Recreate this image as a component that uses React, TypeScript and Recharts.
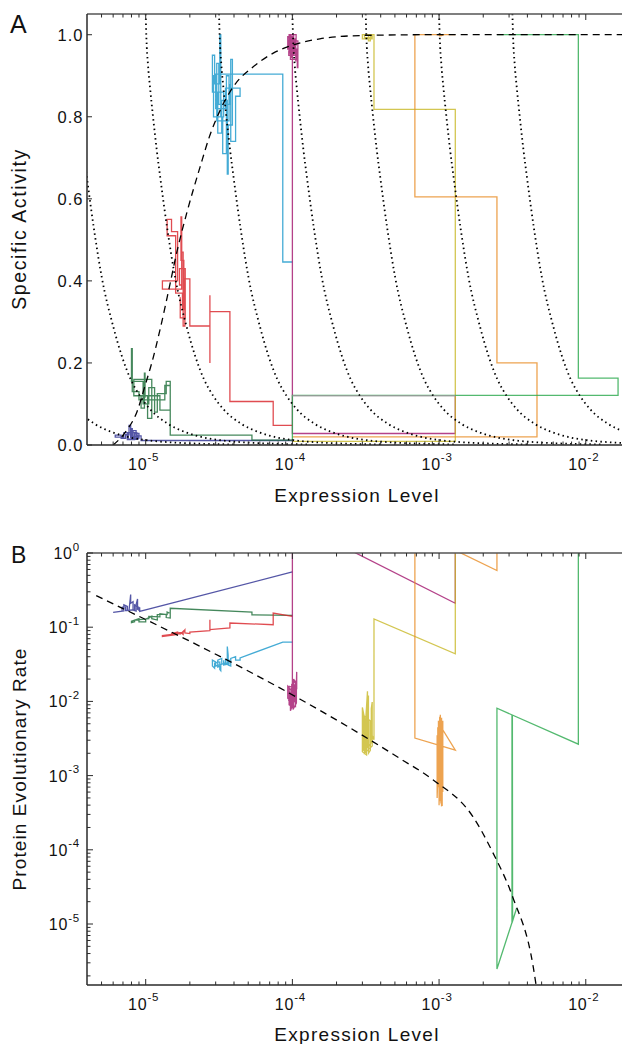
import React from 'react';
import { LineChart, Line, XAxis, YAxis } from 'recharts';

const FONT = '"Liberation Sans", Arial, Helvetica, sans-serif';
const AXIS = '#2a2a2a';
const TOPLINE = '#555';

// ---------- axes ----------
const xDomain: [number, number] = [3.98e-6, 1.766e-2];
const xTicks = [
  5e-6, 6e-6, 7e-6, 8e-6, 9e-6, 1e-5,
  2e-5, 3e-5, 4e-5, 5e-5, 6e-5, 7e-5, 8e-5, 9e-5, 1e-4,
  2e-4, 3e-4, 4e-4, 5e-4, 6e-4, 7e-4, 8e-4, 9e-4, 1e-3,
  2e-3, 3e-3, 4e-3, 5e-3, 6e-3, 7e-3, 8e-3, 9e-3, 1e-2,
];
const yDomainA: [number, number] = [0, 1.0505];
const yTicksA = [0, 0.2, 0.4, 0.6, 0.8, 1.0];
const yDomainB: [number, number] = [1.507e-6, 1];
const yTicksB = [
  2e-6, 3e-6, 4e-6, 5e-6, 6e-6, 7e-6, 8e-6, 9e-6, 1e-5,
  2e-5, 3e-5, 4e-5, 5e-5, 6e-5, 7e-5, 8e-5, 9e-5, 1e-4,
  2e-4, 3e-4, 4e-4, 5e-4, 6e-4, 7e-4, 8e-4, 9e-4, 1e-3,
  2e-3, 3e-3, 4e-3, 5e-3, 6e-3, 7e-3, 8e-3, 9e-3, 1e-2,
  2e-2, 3e-2, 4e-2, 5e-2, 6e-2, 7e-2, 8e-2, 9e-2, 1e-1,
  2e-1, 3e-1, 4e-1, 5e-1, 6e-1, 7e-1, 8e-1, 9e-1, 1,
];

// ---------- reference curves ----------
// fitness isoclines (dotted): shape, (decades right of the top crossing, activity)
const isoclineShape: [number, number][] = [
  [-0.01, 1.25], [0, 1.05], [0.005, 0.99], [0.015, 0.93], [0.03, 0.87], [0.05, 0.8],
  [0.075, 0.72], [0.1, 0.65], [0.15, 0.52], [0.2, 0.41], [0.28, 0.287], [0.4, 0.158],
  [0.46, 0.12], [0.53, 0.087], [0.65, 0.052], [0.78, 0.03], [0.9, 0.018], [1.05, 0.01],
  [1.25, 0.005], [1.6, 0.0015],
];
// log10 expression where each isocline meets the top of panel A
const isoclineOffsets = [-6, -5.5, -5, -4.5, -4, -3.5, -3, -2.5];

const dashedA: [number, number][] = [
  [6.0e-6, 0.0], [7.4e-6, 0.035], [8.7e-6, 0.08], [1.0e-5, 0.15], [1.1e-5, 0.2],
  [1.25e-5, 0.28], [1.45e-5, 0.385], [1.63e-5, 0.47], [1.9e-5, 0.564], [2.35e-5, 0.678],
  [2.74e-5, 0.755], [3.21e-5, 0.815], [3.95e-5, 0.873], [5.41e-5, 0.922], [7.41e-5, 0.955],
  [1.01e-4, 0.975], [1.54e-4, 0.99], [2.9e-4, 0.998], [8e-4, 1.0], [2e-2, 1.0],
];
const dashedB: [number, number][] = [
  [4.6e-6, 0.266], [1.13e-4, 1.07e-2], [2.47e-4, 4.4e-3], [5.41e-4, 1.7e-3],
  [9.08e-4, 8.8e-4], [1.7e-3, 2.8e-4], [2.33e-3, 9.1e-5], [3.18e-3, 2.3e-5],
  [4.39e-3, 2.6e-6], [4.8e-3, 8e-7],
];

// ---------- trajectories: (expression, activity) and (expression, rate) ----------
const navyA: [number, number][] = [
  [1e-4, 0.011], [9.3e-6, 0.011], [9.3e-6, 0.022], [8.9e-6, 0.022], [8.9e-6, 0.015],
  [8.6e-6, 0.015], [8.6e-6, 0.035], [8.2e-6, 0.035], [8.2e-6, 0.018], [7.9e-6, 0.018],
  [7.9e-6, 0.048], [7.7e-6, 0.048], [7.7e-6, 0.025], [7.3e-6, 0.025], [7.3e-6, 0.016],
  [6.8e-6, 0.016], [6.8e-6, 0.024], [6.2e-6, 0.024], [6.2e-6, 0.019], [7.1e-6, 0.019],
  [7.1e-6, 0.03], [7.5e-6, 0.03], [7.5e-6, 0.013], [8.4e-6, 0.013], [8.4e-6, 0.028],
  [9.0e-6, 0.028], [9.0e-6, 0.017], [8.0e-6, 0.017], [8.0e-6, 0.04], [8.1e-6, 0.04],
  [8.1e-6, 0.021], [8.7e-6, 0.021], [8.7e-6, 0.03], [7.6e-6, 0.03], [7.6e-6, 0.014],
  [8.8e-6, 0.014], [8.8e-6, 0.025],
];
const navyB: [number, number][] = [
  [1e-4, 0.555], [9.1e-6, 0.163], [9.1e-6, 0.18], [8.8e-6, 0.175], [8.8e-6, 0.24],
  [8.6e-6, 0.2], [8.6e-6, 0.165], [8.2e-6, 0.17], [8.2e-6, 0.22], [7.9e-6, 0.21],
  [7.9e-6, 0.275], [7.7e-6, 0.17], [7.3e-6, 0.168], [7.3e-6, 0.19], [6.9e-6, 0.185],
  [6.9e-6, 0.165], [6.0e-6, 0.158], [7.1e-6, 0.166], [7.1e-6, 0.2], [7.5e-6, 0.19],
  [7.5e-6, 0.168], [8.4e-6, 0.172], [8.4e-6, 0.2], [9.0e-6, 0.185], [9.0e-6, 0.165],
];

const dgreenA: [number, number][] = [
  [1e-4, 0.012], [5.3e-5, 0.012], [5.3e-5, 0.024], [1.47e-5, 0.024], [1.47e-5, 0.155],
  [1.38e-5, 0.155], [1.38e-5, 0.125], [1.2e-5, 0.125], [1.2e-5, 0.08], [1.15e-5, 0.08],
  [1.15e-5, 0.14], [1.05e-5, 0.14], [1.05e-5, 0.1], [9.6e-6, 0.1], [9.6e-6, 0.155],
  [8.0e-6, 0.155], [8.0e-6, 0.235], [8.1e-6, 0.235], [8.1e-6, 0.13], [9.0e-6, 0.13],
  [9.0e-6, 0.11], [1.35e-5, 0.11], [1.35e-5, 0.145], [1.47e-5, 0.145], [1.47e-5, 0.085],
  [1.25e-5, 0.085], [1.25e-5, 0.12], [8.3e-6, 0.12], [8.3e-6, 0.16], [1.1e-5, 0.16],
  [1.1e-5, 0.065], [1.03e-5, 0.065], [1.03e-5, 0.12], [9.3e-6, 0.12], [9.3e-6, 0.09],
  [9.8e-6, 0.09], [9.8e-6, 0.175], [9.9e-6, 0.175], [9.9e-6, 0.115],
];
const dgreenB: [number, number][] = [
  [1e-4, 0.144], [5.3e-5, 0.147], [5.3e-5, 0.16], [1.47e-5, 0.18], [1.47e-5, 0.133],
  [1.38e-5, 0.135], [1.38e-5, 0.15], [1.2e-5, 0.148], [1.2e-5, 0.125], [1.1e-5, 0.13],
  [1.1e-5, 0.14], [1.0e-5, 0.128], [1.0e-5, 0.118], [9.0e-6, 0.118], [9.0e-6, 0.13],
  [8.0e-6, 0.12], [8.0e-6, 0.115], [8.4e-6, 0.118], [8.4e-6, 0.125], [1.05e-5, 0.13],
  [1.05e-5, 0.14], [1.25e-5, 0.138], [1.25e-5, 0.152], [1.4e-5, 0.148], [1.4e-5, 0.16],
  [1.45e-5, 0.155],
];

const redA: [number, number][] = [
  [1e-4, 0.048], [7.4e-5, 0.048], [7.4e-5, 0.106], [3.75e-5, 0.106], [3.75e-5, 0.325],
  [2.74e-5, 0.325], [2.74e-5, 0.2], [2.74e-5, 0.365], [2.74e-5, 0.29], [2.0e-5, 0.29],
  [2.0e-5, 0.405], [1.85e-5, 0.405], [1.85e-5, 0.29], [1.8e-5, 0.29], [1.8e-5, 0.47],
  [1.76e-5, 0.47], [1.76e-5, 0.38], [1.3e-5, 0.38], [1.3e-5, 0.4], [1.65e-5, 0.4],
  [1.65e-5, 0.52], [1.5e-5, 0.52], [1.5e-5, 0.55], [1.4e-5, 0.55], [1.4e-5, 0.51],
  [1.6e-5, 0.51], [1.6e-5, 0.37], [1.78e-5, 0.37], [1.78e-5, 0.33], [1.82e-5, 0.33],
  [1.82e-5, 0.45], [1.74e-5, 0.45], [1.74e-5, 0.556], [1.76e-5, 0.556], [1.76e-5, 0.39],
  [1.7e-5, 0.39], [1.7e-5, 0.43], [1.86e-5, 0.43], [1.86e-5, 0.31], [1.72e-5, 0.31],
  [1.72e-5, 0.36],
];
const redB: [number, number][] = [
  [1e-4, 0.14], [7.4e-5, 0.155], [7.4e-5, 0.108], [3.75e-5, 0.114], [3.75e-5, 0.098],
  [2.74e-5, 0.093], [2.74e-5, 0.126], [2.74e-5, 0.09], [2.0e-5, 0.086], [2.0e-5, 0.082],
  [1.85e-5, 0.084], [1.85e-5, 0.092], [1.8e-5, 0.086], [1.8e-5, 0.08], [1.76e-5, 0.083],
  [1.3e-5, 0.077], [1.3e-5, 0.075], [1.65e-5, 0.08], [1.65e-5, 0.086], [1.5e-5, 0.082],
  [1.5e-5, 0.078], [1.4e-5, 0.077], [1.6e-5, 0.083], [1.78e-5, 0.085], [1.82e-5, 0.09],
  [1.74e-5, 0.082], [1.7e-5, 0.08],
];

const lblueA: [number, number][] = [
  [1e-4, 0.446], [8.6e-5, 0.446], [8.6e-5, 0.904], [3.0e-5, 0.904], [3.0e-5, 0.86],
  [2.85e-5, 0.86], [2.85e-5, 0.95], [2.95e-5, 0.95], [2.95e-5, 0.88], [3.2e-5, 0.88],
  [3.2e-5, 1.0], [3.25e-5, 1.0], [3.25e-5, 0.8], [3.4e-5, 0.8], [3.4e-5, 0.86],
  [3.1e-5, 0.86], [3.1e-5, 0.76], [3.3e-5, 0.76], [3.3e-5, 0.84], [3.6e-5, 0.84],
  [3.6e-5, 0.66], [3.65e-5, 0.66], [3.65e-5, 0.78], [3.9e-5, 0.78], [3.9e-5, 0.94],
  [3.8e-5, 0.94], [3.8e-5, 0.74], [4.1e-5, 0.74], [4.1e-5, 0.85], [4.4e-5, 0.85],
  [4.4e-5, 0.87], [3.5e-5, 0.87], [3.5e-5, 0.82], [3.0e-5, 0.82], [3.0e-5, 0.9],
  [2.9e-5, 0.9], [2.9e-5, 0.8], [3.35e-5, 0.8], [3.35e-5, 0.71], [3.55e-5, 0.71],
  [3.55e-5, 0.9], [3.7e-5, 0.9], [3.7e-5, 0.79], [3.05e-5, 0.79], [3.05e-5, 0.93],
  [3.15e-5, 0.93], [3.15e-5, 0.83], [3.75e-5, 0.83], [3.75e-5, 0.88],
];
const lblueB: [number, number][] = [
  [1e-4, 0.063], [8.6e-5, 0.063], [4.4e-5, 0.0385], [4.4e-5, 0.036], [4.1e-5, 0.036],
  [4.1e-5, 0.04], [3.8e-5, 0.038], [3.8e-5, 0.03], [3.65e-5, 0.031], [3.65e-5, 0.042],
  [3.6e-5, 0.055], [3.6e-5, 0.033], [3.3e-5, 0.032], [3.3e-5, 0.038], [3.1e-5, 0.036],
  [3.1e-5, 0.029], [3.25e-5, 0.03], [3.25e-5, 0.026], [3.2e-5, 0.027], [3.2e-5, 0.034],
  [2.95e-5, 0.033], [2.95e-5, 0.028], [2.85e-5, 0.03], [2.85e-5, 0.036], [3.0e-5, 0.034],
  [3.0e-5, 0.03], [3.5e-5, 0.033], [3.5e-5, 0.037], [3.7e-5, 0.036], [3.7e-5, 0.032],
  [3.4e-5, 0.031], [3.4e-5, 0.036],
];

const magentaA: [number, number][] = [
  [1.29e-3, 0.12], [1.29e-3, 0.028], [1e-4, 0.028], [1e-4, 0.97],
  [9.8e-5, 0.97], [9.8e-5, 1.0], [1.02e-4, 1.0], [1.02e-4, 0.95], [1.05e-4, 0.95],
  [1.05e-4, 0.99], [9.6e-5, 0.99], [9.6e-5, 0.96], [1.08e-4, 0.96], [1.08e-4, 0.92],
  [1.09e-4, 0.92], [1.09e-4, 0.985], [9.4e-5, 0.985], [9.4e-5, 0.975], [1.06e-4, 0.975],
  [1.06e-4, 1.0], [9.5e-5, 1.0], [9.5e-5, 0.955], [1.03e-4, 0.955], [1.03e-4, 0.98],
  [9.9e-5, 0.98], [9.9e-5, 0.945], [1.0e-4, 0.945], [1.0e-4, 0.995], [9.3e-5, 0.995],
  [9.3e-5, 0.965], [1.07e-4, 0.965], [1.07e-4, 0.94], [9.7e-5, 0.94], [9.7e-5, 0.99],
  [1.04e-4, 0.99], [1.04e-4, 0.96], [9.45e-5, 0.96], [9.45e-5, 0.95], [1.01e-4, 0.95],
  [1.01e-4, 1.0], [9.65e-5, 1.0], [9.65e-5, 0.97], [1.055e-4, 0.97], [1.055e-4, 0.935],
];
// stretch where the magenta path runs on top of the green one (drawn greyish in the figure)
const magentaOnGreenA: [number, number][] = [[1e-4, 0.12], [1.29e-3, 0.12]];
const magentaB: [number, number][] = [
  [1.29e-3, 3], [1.29e-3, 0.21], [1e-4, 2.7], [1e-4, 0.012], [9.8e-5, 0.015],
  [9.8e-5, 0.008], [1.02e-4, 0.009], [1.02e-4, 0.02], [1.05e-4, 0.018], [1.05e-4, 0.0085],
  [9.5e-5, 0.009], [9.5e-5, 0.016], [1.07e-4, 0.015], [1.07e-4, 0.025], [1.06e-4, 0.012],
  [9.7e-5, 0.0075], [9.7e-5, 0.013], [1.03e-4, 0.011], [1.03e-4, 0.017], [9.6e-5, 0.012],
  [9.6e-5, 0.009], [1.04e-4, 0.01], [1.04e-4, 0.014], [1.0e-4, 0.0095], [9.3e-5, 0.011],
  [9.3e-5, 0.016], [1.01e-4, 0.013], [1.01e-4, 0.0078], [1.065e-4, 0.0095], [1.065e-4, 0.019],
  [9.9e-5, 0.017], [9.9e-5, 0.0088], [9.4e-5, 0.0105],
];

const yellowA: [number, number][] = [
  [1e-4, 0.009], [1.29e-3, 0.009], [1.29e-3, 0.818], [3.6e-4, 0.818], [3.6e-4, 1.0],
  [3.4e-4, 1.0], [3.4e-4, 0.985], [3.3e-4, 0.985], [3.3e-4, 1.0], [3.0e-4, 1.0],
  [3.0e-4, 0.99], [3.5e-4, 0.99], [3.5e-4, 1.0], [3.1e-4, 1.0], [3.1e-4, 0.993],
  [3.45e-4, 0.993], [3.45e-4, 1.0],
];
const yellowB: [number, number][] = [
  [1.29e-3, 3], [1.29e-3, 0.0437], [3.6e-4, 0.129], [3.6e-4, 3.05e-3], [3.4e-4, 4e-3],
  [3.4e-4, 2.2e-3], [3.3e-4, 2e-3], [3.3e-4, 1.2e-2], [3.2e-4, 7e-3], [3.2e-4, 1.9e-3],
  [3.0e-4, 2.1e-3], [3.0e-4, 8.3e-3], [3.1e-4, 6e-3], [3.1e-4, 2e-3], [3.5e-4, 2.5e-3],
  [3.5e-4, 9.8e-3], [3.45e-4, 8e-3], [3.45e-4, 2.8e-3], [3.25e-4, 2.4e-3], [3.25e-4, 1.37e-2],
  [3.15e-4, 5e-3], [3.15e-4, 2.1e-3], [3.05e-4, 2.2e-3], [3.05e-4, 6.5e-3], [3.38e-4, 5.5e-3],
  [3.38e-4, 2.3e-3],
];

const orangeA: [number, number][] = [
  [1e-4, 0.02], [4.65e-3, 0.02], [4.65e-3, 0.2], [2.48e-3, 0.2], [2.48e-3, 0.605],
  [6.84e-4, 0.605], [6.84e-4, 1.0], [1.29e-3, 1.0], [1.0e-3, 1.0], [1.05e-3, 0.998],
  [9.6e-4, 1.0], [1.07e-3, 0.999], [1.0e-3, 0.997],
];
const orangeB: [number, number][] = [
  [2.48e-3, 5], [2.48e-3, 0.58], [6.84e-4, 2.0], [6.84e-4, 3.2e-3], [1.29e-3, 2.2e-3],
  [1.0e-3, 5e-3], [1.0e-3, 4e-4], [1.02e-3, 6.6e-3], [1.02e-3, 5e-4], [1.04e-3, 6e-3],
  [1.04e-3, 3.85e-4], [9.8e-4, 4.5e-3], [9.8e-4, 1e-3], [1.06e-3, 5.5e-3], [1.06e-3, 6e-4],
  [9.7e-4, 3.5e-3], [9.7e-4, 5e-4], [1.01e-3, 6.2e-3], [1.01e-3, 4.5e-4], [1.03e-3, 5.8e-3],
  [1.03e-3, 4.2e-4], [9.9e-4, 5.5e-3], [9.9e-4, 7e-4], [1.05e-3, 4e-3], [1.05e-3, 3.9e-4],
];

const greenA: [number, number][] = [
  [1e-4, 0.011], [1e-4, 0.121], [1.66e-2, 0.121], [1.66e-2, 0.163], [8.9e-3, 0.163],
  [8.9e-3, 1.0], [2.48e-3, 1.0], [3.38e-3, 1.0], [3.14e-3, 1.0],
];
const greenB: [number, number][] = [
  [1.66e-2, 5], [8.9e-3, 5], [8.9e-3, 2.65e-3], [2.48e-3, 8.1e-3], [2.48e-3, 2.48e-6],
  [3.38e-3, 1.64e-5], [3.14e-3, 1.03e-5], [3.14e-3, 6.6e-3], [3.15e-3, 1.1e-5],
  [3.16e-3, 6.5e-3], [3.17e-3, 1.2e-5], [3.15e-3, 6.4e-3],
];

const colors: Record<string, string> = {
  navy: '#2e3192',
  dgreen: '#1c6e38',
  red: '#d9252b',
  lblue: '#1b98cc',
  magenta: '#a3186f',
  yellow: '#c9b92b',
  orange: '#e98f2a',
  green: '#2daa4f',
  overlap: '#9c9a9c',
};

const trajA = [
  { name: 'navy', pts: navyA },
  { name: 'dgreen', pts: dgreenA },
  { name: 'red', pts: redA },
  { name: 'lblue', pts: lblueA },
  { name: 'magenta', pts: magentaA },
  { name: 'yellow', pts: yellowA },
  { name: 'orange', pts: orangeA },
  { name: 'green', pts: greenA },
  { name: 'overlap', pts: magentaOnGreenA },
];
const trajB = [
  { name: 'navy', pts: navyB },
  { name: 'dgreen', pts: dgreenB },
  { name: 'red', pts: redB },
  { name: 'lblue', pts: lblueB },
  { name: 'magenta', pts: magentaB },
  { name: 'yellow', pts: yellowB },
  { name: 'orange', pts: orangeB },
  { name: 'green', pts: greenB },
];

const toObj = (arr: [number, number][]) => arr.map(([x, y]) => ({ x, y }));
const isoclines = isoclineOffsets.map((off) =>
  isoclineShape.map(([d, a]) => ({ x: Math.pow(10, off + d), y: a }))
);

// ---------- ticks ----------
const isDecade = (v: number) => Math.abs(Math.log10(v) - Math.round(Math.log10(v))) < 1e-6;

function BottomTick(props: any) {
  const { x, y, payload } = props;
  const v = payload.value;
  const major = isDecade(v);
  const e = Math.round(Math.log10(v));
  return (
    <g>
      <line x1={x} x2={x} y1={y} y2={y - (major ? 6 : 3.5)} stroke={AXIS} strokeWidth={1} />
      {major && (
        <text x={x - 2} y={y + 24.5} textAnchor="middle" fontFamily={FONT} fontSize={16} fill="#111" letterSpacing={0.8}>
          <tspan>10</tspan>
          <tspan dy={-8.5} fontSize={11.5}>{String(e)}</tspan>
        </text>
      )}
    </g>
  );
}
function TopTick(props: any) {
  const { x, y, payload } = props;
  const major = isDecade(payload.value);
  return <line x1={x} x2={x} y1={y} y2={y + (major ? 6 : 3.5)} stroke={AXIS} strokeWidth={1} />;
}
function LeftTickA(props: any) {
  const { x, y, payload } = props;
  return (
    <g>
      <line x1={x} x2={x + 5} y1={y} y2={y} stroke={AXIS} strokeWidth={1} />
      <text x={x - 3.5} y={y + 6} textAnchor="end" fontFamily={FONT} fontSize={16.5} fill="#111" letterSpacing={1}>
        {Number(payload.value).toFixed(1)}
      </text>
    </g>
  );
}
function LeftTickB(props: any) {
  const { x, y, payload } = props;
  const v = payload.value;
  const major = isDecade(v);
  const e = Math.round(Math.log10(v));
  return (
    <g>
      <line x1={x} x2={x + (major ? 6 : 3.5)} y1={y} y2={y} stroke={AXIS} strokeWidth={1} />
      {major && (
        <text x={x - 7} y={y + 6} textAnchor="end" fontFamily={FONT} fontSize={16} fill="#111" letterSpacing={0.8}>
          <tspan>10</tspan>
          <tspan dy={-8.5} fontSize={11.5}>{String(e)}</tspan>
        </text>
      )}
    </g>
  );
}

const lineProps = { isAnimationActive: false, dot: false, activeDot: false, dataKey: 'y', type: 'linear' as const };

export default function App() {
  return (
    <div style={{ position: 'absolute', left: 0, top: 0, width: 622, height: 1044, background: '#fff' }}>
      {/* Panel A */}
      <div style={{ position: 'absolute', left: 0, top: 0 }}>
        <LineChart width={622} height={520} margin={{ top: 0, right: 0, left: 0, bottom: 0 }}>
          <XAxis
            dataKey="x" type="number" scale="log" domain={xDomain} allowDataOverflow
            ticks={xTicks} interval={0} tickSize={0} tickMargin={0} tickLine={false}
            tick={<BottomTick />} height={75} axisLine={{ stroke: AXIS, strokeWidth: 1.5 }}
          />
          <XAxis
            xAxisId="top" orientation="top" dataKey="x" type="number" scale="log" domain={xDomain}
            allowDataOverflow ticks={xTicks} interval={0} tickSize={0} tickMargin={0} tickLine={false}
            tick={<TopTick />} height={14} axisLine={{ stroke: TOPLINE, strokeWidth: 1.5 }}
          />
          <YAxis
            type="number" domain={yDomainA} allowDataOverflow ticks={yTicksA} interval={0}
            tickSize={0} tickMargin={0} tickLine={false} tick={<LeftTickA />} width={87}
            axisLine={{ stroke: AXIS, strokeWidth: 1.5 }}
          />
          {trajA.map((t) => (
            <Line
              key={t.name} {...lineProps} data={toObj(t.pts)}
              stroke={colors[t.name]} strokeWidth={1.3} strokeOpacity={0.82}
            />
          ))}
          {isoclines.map((pts, i) => (
            <Line
              key={'iso' + i} {...lineProps} type="monotone" data={pts} stroke="#000"
              strokeWidth={1.8} strokeDasharray="1.5 3.3" strokeLinecap="butt"
            />
          ))}
          <Line {...lineProps} type="monotone" data={toObj(dashedA)} stroke="#000" strokeWidth={1.3} strokeDasharray="7 5" />
        </LineChart>
      </div>

      {/* Panel B */}
      <div style={{ position: 'absolute', left: 0, top: 520 }}>
        <LineChart width={622} height={524} margin={{ top: 0, right: 0, left: 0, bottom: 0 }}>
          <XAxis
            dataKey="x" type="number" scale="log" domain={xDomain} allowDataOverflow
            ticks={xTicks} interval={0} tickSize={0} tickMargin={0} tickLine={false}
            tick={<BottomTick />} height={59} axisLine={{ stroke: AXIS, strokeWidth: 1.5 }}
          />
          <XAxis
            xAxisId="top" orientation="top" dataKey="x" type="number" scale="log" domain={xDomain}
            allowDataOverflow ticks={xTicks} interval={0} tickSize={0} tickMargin={0} tickLine={false}
            tick={<TopTick />} height={33} axisLine={{ stroke: TOPLINE, strokeWidth: 1.5 }}
          />
          <YAxis
            type="number" scale="log" domain={yDomainB} allowDataOverflow ticks={yTicksB} interval={0}
            tickSize={0} tickMargin={0} tickLine={false} tick={<LeftTickB />} width={87}
            axisLine={{ stroke: AXIS, strokeWidth: 1.5 }}
          />
          {trajB.map((t) => (
            <Line
              key={t.name} {...lineProps} data={toObj(t.pts)}
              stroke={colors[t.name]} strokeWidth={1.3} strokeOpacity={0.82}
            />
          ))}
          <Line {...lineProps} type="monotone" data={toObj(dashedB)} stroke="#000" strokeWidth={1.3} strokeDasharray="7 5" />
        </LineChart>
      </div>

      {/* titles */}
      <svg width={622} height={1044} style={{ position: 'absolute', left: 0, top: 0, pointerEvents: 'none' }}>
        <g fontFamily={FONT} fill="#111">
          <text x={10} y={33} fontSize={25}>A</text>
          <text x={11} y={563} fontSize={23}>B</text>
          <text x={357} y={502} textAnchor="middle" fontSize={19} letterSpacing={1.3}>Expression Level</text>
          <text x={357} y={1041} textAnchor="middle" fontSize={19} letterSpacing={1.3}>Expression Level</text>
          <text transform="translate(26,229) rotate(-90)" textAnchor="middle" fontSize={19.5} letterSpacing={1.6}>Specific Activity</text>
          <text transform="translate(26,769) rotate(-90)" textAnchor="middle" fontSize={19} letterSpacing={1.1}>Protein Evolutionary Rate</text>
        </g>
      </svg>
    </div>
  );
}
